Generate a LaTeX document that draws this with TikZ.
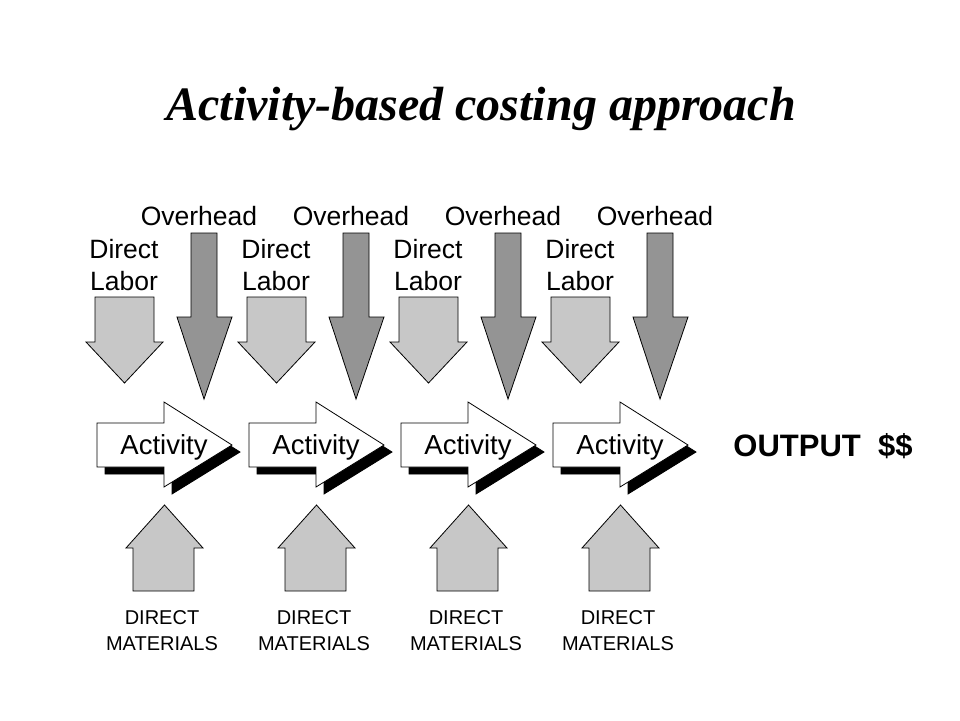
\documentclass[tikz,border=0pt]{standalone}
\usepackage{fontspec}
\setmainfont{Liberation Sans}
\newfontfamily\titlefont{Liberation Serif}
\usetikzlibrary{positioning}

\begin{document}
\begin{tikzpicture}[x=1pt,y=-1pt,line width=0.8pt,
                    label text/.style={font=\fontsize{26.5}{32}\selectfont,align=center,inner sep=0pt},
                    small text/.style={font=\fontsize{20}{26}\selectfont,align=center,inner sep=0pt},
                    labor arrow/.style={draw,fill=black!22},
                    overhead arrow/.style={draw,fill=black!42},
                    activity arrow/.style={draw,fill=white},
                    shadow arrow/.style={fill=black}]
  \useasboundingbox (0,0) rectangle (960,720);
  %title%
  \node (title) at (481,109) {\titlefont\fontsize{48}{56}\selectfont\bfseries\itshape Activity-based costing approach};

  \foreach \i in {0,...,3}{
    \begin{scope}[xshift={\i*152pt}]
      % direct labor
      \draw[labor arrow] (95,297) -- (154,297) -- (154,342) -- (163,342) -- (124.5,383)
        -- (86,342) -- (95,342) -- cycle;
      \node[label text] (labor\i) at (124,265) {Direct\\Labor};
      % overhead
      \draw[overhead arrow] (191,233) -- (217,233) -- (217,317) -- (232,317) -- (204,399)
        -- (177,317) -- (191,317) -- cycle;
      \node[label text] (over\i) at (199,216) {Overhead};
      % activity
      \draw[shadow arrow] (105,430) -- (172,430) -- (172,409) -- (240,452) -- (172,494)
        -- (172,474) -- (105,474) -- cycle;
      \draw[activity arrow] (97,423) -- (164,423) -- (164,402) -- (232,445) -- (164,487)
        -- (164,467) -- (97,467) -- cycle;
      \node[label text,font=\fontsize{27.5}{32}\selectfont] (act\i) at (164,447) {Activity};
      % direct materials
      \draw[labor arrow] (133,591) -- (194,591) -- (194,548) -- (203,548) -- (164.5,505)
        -- (126,548) -- (133,548) -- cycle;
      \node[small text] (mat\i) at (162,631) {DIRECT\\MATERIALS};
    \end{scope}
  }

  \node[font=\fontsize{31}{36}\selectfont\bfseries,inner sep=0pt] (output) at (823,446) {OUTPUT~~\$\$};
\end{tikzpicture}
\end{document}
